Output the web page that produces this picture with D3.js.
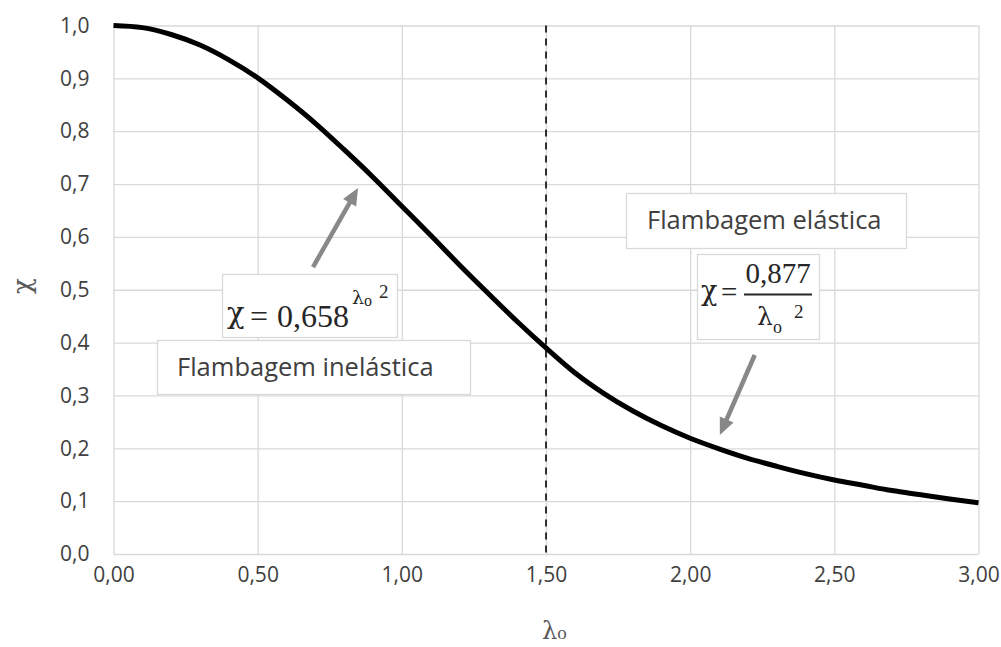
<!DOCTYPE html>
<html>
<head>
<meta charset="utf-8">
<script src="https://cdn.jsdelivr.net/npm/d3@7"></script>
<style>
  html, body { margin: 0; padding: 0; background: #fff; }
  svg { display: block; }
  .tick text { font-family: "Open Sans", "Noto Sans", sans-serif; fill: #404040; }
</style>
</head>
<body>
<svg id="chart" width="1001" height="647"></svg>
<script>
// Reduced slenderness λo and reduction factor χ along the buckling curve
const lambdaValues = [0.0, 0.1, 0.2, 0.3, 0.4, 0.5, 0.6, 0.7, 0.8, 0.9, 1.0,
  1.1, 1.2, 1.3, 1.4, 1.5, 1.6, 1.7, 1.8, 1.9, 2.0,
  2.1, 2.2, 2.3, 2.4, 2.5, 2.6, 2.7, 2.8, 2.9, 3.0];
const chiValues = [1.000, 0.996, 0.983, 0.963, 0.935, 0.901, 0.860, 0.815, 0.765, 0.713, 0.658,
  0.603, 0.547, 0.493, 0.440, 0.390, 0.343, 0.304, 0.271, 0.243, 0.219,
  0.199, 0.181, 0.166, 0.152, 0.140, 0.130, 0.120, 0.112, 0.104, 0.097];

// Limit between inelastic and elastic buckling
const lambdaLimit = 1.5;

// Axis ticks
const xTicks = [0, 0.5, 1.0, 1.5, 2.0, 2.5, 3.0];
const yTicks = [0, 0.1, 0.2, 0.3, 0.4, 0.5, 0.6, 0.7, 0.8, 0.9, 1.0];
const xTickLabels = ["0,00", "0,50", "1,00", "1,50", "2,00", "2,50", "3,00"];
const yTickLabels = ["0,0", "0,1", "0,2", "0,3", "0,4", "0,5", "0,6", "0,7", "0,8", "0,9", "1,0"];

// Arrow annotations: [λ, χ] of tail and head
const arrowInelastic = [[0.692, 0.543], [0.848, 0.6925]];
const arrowElastic = [[2.224, 0.3765], [2.103, 0.2252]];

const svg = d3.select("#chart");
const plotLeft = 113.5, plotRight = 978.5, plotTop = 25.5, plotBottom = 554;

const x = d3.scaleLinear().domain([0, 3]).range([plotLeft, plotRight]);
const y = d3.scaleLinear().domain([0, 1]).range([plotBottom, plotTop]);

const grid = "#d9d9d9";

// Vertical gridlines + x tick labels
const xAxis = svg.append("g")
  .attr("transform", `translate(0,${plotBottom})`)
  .call(d3.axisBottom(x).tickValues(xTicks)
    .tickSize(-(plotBottom - plotTop)).tickPadding(13)
    .tickFormat((d, i) => xTickLabels[i]));
xAxis.select(".domain").remove();
xAxis.selectAll("line").attr("stroke", grid).attr("stroke-width", 1.3);
xAxis.selectAll("text").attr("font-size", 21).attr("dy", "0.71em");

// Horizontal gridlines + y tick labels
const yAxis = svg.append("g")
  .attr("transform", `translate(${plotLeft},0)`)
  .call(d3.axisLeft(y).tickValues(yTicks)
    .tickSize(-(plotRight - plotLeft)).tickPadding(24)
    .tickFormat((d, i) => yTickLabels[i]));
yAxis.select(".domain").remove();
yAxis.selectAll("line").attr("stroke", grid).attr("stroke-width", 1.3);
yAxis.selectAll("text").attr("font-size", 21);

// Dashed limit line
svg.append("line")
  .attr("x1", x(lambdaLimit)).attr("x2", x(lambdaLimit))
  .attr("y1", y(1)).attr("y2", y(0))
  .attr("stroke", "#000").attr("stroke-width", 1.6)
  .attr("stroke-dasharray", "7,6");

// Buckling curve
const pts = lambdaValues.map((l, i) => [l, chiValues[i]]);
svg.append("path")
  .datum(pts)
  .attr("fill", "none")
  .attr("stroke", "#000")
  .attr("stroke-width", 5)
  .attr("stroke-linejoin", "round")
  .attr("d", d3.line().x(d => x(d[0])).y(d => y(d[1])).curve(d3.curveMonotoneX));

// Gray arrows
function drawArrow(a) {
  const x1 = x(a[0][0]), y1 = y(a[0][1]);
  const x2 = x(a[1][0]), y2 = y(a[1][1]);
  const ang = Math.atan2(y2 - y1, x2 - x1);
  const headLen = 17, headHalf = 7.5;
  const bx = x2 - headLen * Math.cos(ang), by = y2 - headLen * Math.sin(ang);
  svg.append("line")
    .attr("x1", x1).attr("y1", y1).attr("x2", bx + 2 * Math.cos(ang)).attr("y2", by + 2 * Math.sin(ang))
    .attr("stroke", "#888").attr("stroke-width", 4.5);
  const px = -Math.sin(ang), py = Math.cos(ang);
  svg.append("path")
    .attr("d", `M${x2},${y2}L${bx + headHalf * px},${by + headHalf * py}L${bx - headHalf * px},${by - headHalf * py}Z`)
    .attr("fill", "#888");
}
drawArrow(arrowInelastic);
drawArrow(arrowElastic);

// Text boxes
function box(x0, y0, w, h) {
  svg.append("rect")
    .attr("x", x0 + 0.5).attr("y", y0 + 0.5).attr("width", w).attr("height", h)
    .attr("fill", "#fff").attr("stroke", grid).attr("stroke-width", 1.3);
}
const sans = '"Open Sans", "Noto Sans", sans-serif';
const serif = '"Liberation Serif", "DejaVu Serif", serif';
const greek = '"DejaVu Serif", serif';

// Inelastic formula box
box(222, 274, 175, 63);
const f1 = svg.append("g").attr("fill", "#262626").attr("font-family", serif);
f1.append("text").attr("x", 227).attr("y", 323).attr("font-size", 29).attr("font-family", greek).text("χ");
f1.append("text").attr("x", 250).attr("y", 327).attr("font-size", 32).text("=");
f1.append("text").attr("x", 277).attr("y", 327).attr("font-size", 32).text("0,658");
f1.append("text").attr("x", 352).attr("y", 304).attr("font-size", 19).attr("font-family", greek).text("λ");
f1.append("text").attr("x", 364).attr("y", 306).attr("font-size", 16).text("o");
f1.append("text").attr("x", 379).attr("y", 298).attr("font-size", 19).text("2");

box(157, 340, 313, 54);
svg.append("text").attr("x", 177).attr("y", 376)
  .attr("font-family", sans).attr("font-size", 25.5).attr("fill", "#404040")
  .text("Flambagem inelástica");

// Elastic boxes
box(626, 193, 280, 55);
svg.append("text").attr("x", 647).attr("y", 229)
  .attr("font-family", sans).attr("font-size", 25.5).attr("fill", "#404040")
  .text("Flambagem elástica");

box(697, 254, 122, 85);
const f2 = svg.append("g").attr("fill", "#262626").attr("font-family", serif);
f2.append("text").attr("x", 701).attr("y", 300).attr("font-size", 27).attr("font-family", greek).text("χ");
f2.append("text").attr("x", 721).attr("y", 302).attr("font-size", 29).text("=");
f2.append("text").attr("x", 778).attr("y", 283).attr("font-size", 29).attr("text-anchor", "middle").text("0,877");
f2.append("line").attr("x1", 744).attr("x2", 812).attr("y1", 294.5).attr("y2", 294.5)
  .attr("stroke", "#262626").attr("stroke-width", 1.8);
f2.append("text").attr("x", 757).attr("y", 325).attr("font-size", 25).attr("font-family", greek).text("λ");
f2.append("text").attr("x", 773).attr("y", 333).attr("font-size", 18).text("o");
f2.append("text").attr("x", 794).attr("y", 318).attr("font-size", 19).text("2");

// Axis titles
svg.append("text")
  .attr("transform", "translate(31,286) rotate(-90)")
  .attr("text-anchor", "middle")
  .attr("font-family", greek).attr("font-size", 26).attr("fill", "#595959")
  .text("χ");

const xTitle = svg.append("text")
  .attr("x", 542).attr("y", 639)
  .attr("font-family", serif).attr("fill", "#595959");
xTitle.append("tspan").attr("font-size", 24).attr("font-family", greek).text("λ");
xTitle.append("tspan").attr("font-size", 19).text("o");
</script>
</body>
</html>
